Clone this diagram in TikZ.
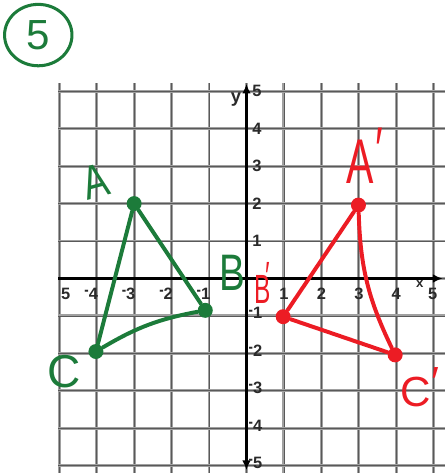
\documentclass[tikz,border=0pt]{standalone}
\usepackage{fontspec}
\setmainfont{Liberation Sans}
\usetikzlibrary{arrows.meta,shapes.geometric}
\definecolor{pengreen}{HTML}{1C7B3A}
\definecolor{penred}{HTML}{EC1C24}
\definecolor{gridgray}{HTML}{A0A0A0}
\definecolor{ink}{HTML}{2A2A2A}
\newcommand{\negnum}[1]{\raisebox{0.45ex}{\scalebox{0.8}[1]{-}}#1}

\begin{document}
\begin{tikzpicture}[
  x=1cm,
  y=1cm,
  gridwide/.style={draw=gridgray, line width=2.2pt},
  gridcore/.style={draw=black!65, line width=0.6pt},
  axis/.style={draw=black, line width=1.9pt},
  tip/.style={-{Latex[length=2.6mm,width=2.3mm]}},
  ticklabel/.style={text=ink, inner sep=0pt, font=\bfseries\fontsize{12.5}{14}\selectfont},
  gdot/.style={circle, fill=pengreen, inner sep=0pt, minimum size=4mm},
  rdot/.style={circle, fill=penred, inner sep=0pt, minimum size=4mm},
  gline/.style={draw=pengreen, line width=3pt, line cap=round},
  rline/.style={draw=penred, line width=3pt, line cap=round},
  glabel/.style={text=pengreen, inner sep=0pt, anchor=base},
  rlabel/.style={text=penred, inner sep=0pt, anchor=base}
]
  \useasboundingbox (-6.582,-5.194) rectangle (5.30,7.437);

  % Grid.
  \foreach \x in {-5,...,5} {
    \draw[gridwide] (\x,-5.2) -- (\x,5.22);
    \draw[gridcore] (\x,-5.2) -- (\x,5.22);
  }
  \foreach \y in {-5,...,5} {
    \draw[gridwide] (-5.03,\y) -- (5.31,\y);
    \draw[gridcore] (-5.03,\y) -- (5.31,\y);
  }

  % Axes and ticks.
  \draw[axis,tip] (-5.03,0) -- (5.24,0);
  \draw[axis,tip] (0,0) -- (0,5.2);
  \draw[axis,tip] (0,0) -- (0,-5.12);
  \node[ticklabel, font=\bfseries\fontsize{10}{11}\selectfont] (xname) at (4.63,-0.14) {x};
  \node[ticklabel, font=\bfseries\fontsize{14}{15}\selectfont] (yname) at (-0.28,4.78) {y};

  \node[ticklabel] (xl5n) at (-4.83,-0.4) {5};
  \foreach \x/\n in {-4/4,-3/3,-2/2,-1/1}
    \node[ticklabel, anchor=east] (xl\n n) at (\x+0.04,-0.4) {\negnum{\n}};
  \foreach \x in {1,...,4}
    \node[ticklabel] (xl\x) at (\x,-0.4) {\x};
  \node[ticklabel] (xl5) at (4.97,-0.42) {5};

  \foreach \y in {1,...,5}
    \node[ticklabel, anchor=west] (yl\y) at (0.15,\y) {\y};
  \foreach \y/\n in {-1/1,-2/2,-3/3,-4/4,-5/5}
    \node[ticklabel, anchor=west] (yl\n n) at (0.05,\y+0.07) {\negnum{\n}};

  % Problem number.
  \node[draw=pengreen, line width=2.3pt, ellipse, minimum width=1.8cm,
        minimum height=1.64cm, inner sep=0pt, text=pengreen,
        font=\fontsize{32}{34}\selectfont] (num) at (-5.56,6.5) {5};

  % Triangle ABC.
  \node[gdot] (A) at (-3,2) {};
  \node[gdot] (B) at (-1.1,-0.85) {};
  \node[gdot] (C) at (-4.02,-1.95) {};
  \draw[gline] (A) -- (B);
  \draw[gline] (A) -- (C);
  \draw[gline] (C) to[bend left=10] (B);

  \node[glabel, rotate=15, xscale=0.8, font=\fontsize{36}{40}\selectfont]
    (labA) at (-3.93,2.17) {A};
  \node[glabel, xscale=0.75, font=\fontsize{39}{42}\selectfont]
    (labB) at (-0.39,-0.31) {B};
  \node[glabel, font=\fontsize{35}{38}\selectfont]
    (labC) at (-4.87,-2.91) {C};

  % Image A'B'C'.
  \node[rdot] (Ar) at (2.99,1.96) {};
  \node[rdot] (Br) at (0.98,-1.02) {};
  \node[rdot] (Cr) at (3.97,-2.04) {};
  \draw[rline] (Ar) -- (Br);
  \draw[rline] (Br) -- (Cr);
  \draw[rline] (Ar) to[bend right=12] (Cr);

  \node[rlabel, xscale=0.65, font=\fontsize{48}{50}\selectfont]
    (labAr) at (3.17,2.55) {A\kern2pt\raisebox{9pt}{′}};
  \node[rlabel, xscale=0.6, font=\fontsize{31}{34}\selectfont]
    (labBr) at (0.42,-0.68) {B\kern-6pt\raisebox{10pt}{′}};
  \node[rlabel, font=\fontsize{32}{34}\selectfont]
    (labCr) at (4.63,-3.43) {C\raisebox{8pt}{′}};

\end{tikzpicture}
\end{document}
